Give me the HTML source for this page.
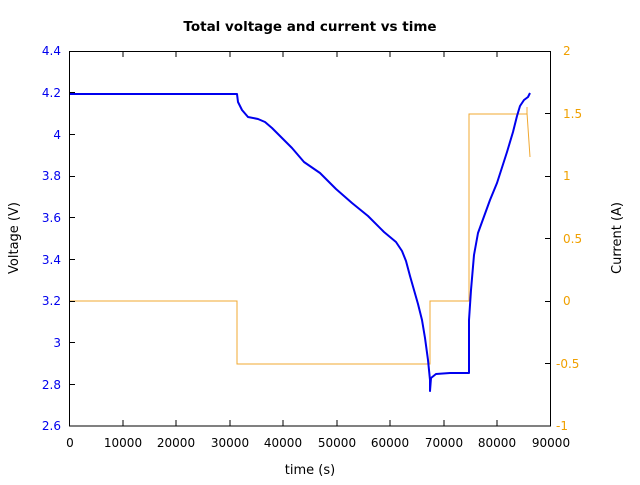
<!DOCTYPE html>
<html><head><meta charset="utf-8"><style>
body{margin:0;background:#fff}
text{font-family:"DejaVu Sans","Liberation Sans",sans-serif;font-size:12px}
</style></head><body>
<svg width="640" height="480" xmlns="http://www.w3.org/2000/svg">
<rect width="640" height="480" fill="#fff"/>
<text x="310" y="31" text-anchor="middle" style="font-weight:bold;font-size:13.5px">Total voltage and current vs time</text>
<!-- current -->
<polyline fill="none" stroke="#f0a830" stroke-width="1" points="69,301 237,301 237,364 430,364 430,301 469,301 469,114 527,114 527,107 527,113 530,157"/>
<!-- voltage -->
<polyline fill="none" stroke="#0000ee" stroke-width="2" stroke-linejoin="round" points="69,94 237,94 238,102 242,110 248,117 258,119 265,122 272,128 282,138 292,148 304,162 320,173 336,189 352,203 368,216 384,232 396,242 402,251 406,261 410,276 414,290 418,304 422,320 425,338 428,360 430,380 430,391 431,378 436,374 450,373 469,373 469,320 471,290 474,255 478,233 482,222 490,200 497,183 507,152 513,132 517,116 520,106 524,100 528,97 530,93"/>
<rect x="69.5" y="51.5" width="481" height="374.5" fill="none" stroke="#000" stroke-width="1"/>
<g stroke="#000" stroke-width="1">
<path d="M123,426v-6M176,426v-6M230,426v-6M283,426v-6M337,426v-6M390,426v-6M444,426v-6M497,426v-6
M123,51v6M176,51v6M230,51v6M283,51v6M337,51v6M390,51v6M444,51v6M497,51v6
M69,384.5h6M69,342.5h6M69,301.5h6M69,259.5h6M69,217.5h6M69,176.5h6M69,134.5h6M69,92.5h6
M551,363.5h-6M551,301.5h-6M551,238.5h-6M551,176.5h-6M551,113.5h-6"/>
</g>
<g fill="#0000ee" text-anchor="end">
<text x="61" y="430">2.6</text><text x="61" y="389">2.8</text><text x="61" y="347">3</text>
<text x="61" y="305">3.2</text><text x="61" y="264">3.4</text><text x="61" y="222">3.6</text>
<text x="61" y="180">3.8</text><text x="61" y="139">4</text><text x="61" y="97">4.2</text><text x="61" y="55">4.4</text>
</g>
<g fill="#f0a000">
<text x="556" y="430">-1</text><text x="556" y="368">-0.5</text><text x="563" y="305">0</text>
<text x="563" y="243">0.5</text><text x="563" y="180">1</text><text x="563" y="118">1.5</text><text x="563" y="55">2</text>
</g>
<g fill="#000" text-anchor="middle">
<text x="70" y="447">0</text><text x="123" y="447">10000</text><text x="176" y="447">20000</text>
<text x="230" y="447">30000</text><text x="283" y="447">40000</text><text x="337" y="447">50000</text>
<text x="390" y="447">60000</text><text x="444" y="447">70000</text><text x="497" y="447">80000</text><text x="551" y="447">90000</text>
<text x="310" y="474" style="font-size:13px">time (s)</text>
<text transform="translate(18,238) rotate(-90)" style="font-size:13px">Voltage (V)</text>
<text transform="translate(621,238) rotate(-90)" style="font-size:13px">Current (A)</text>
</g>
</svg>
</body></html>
